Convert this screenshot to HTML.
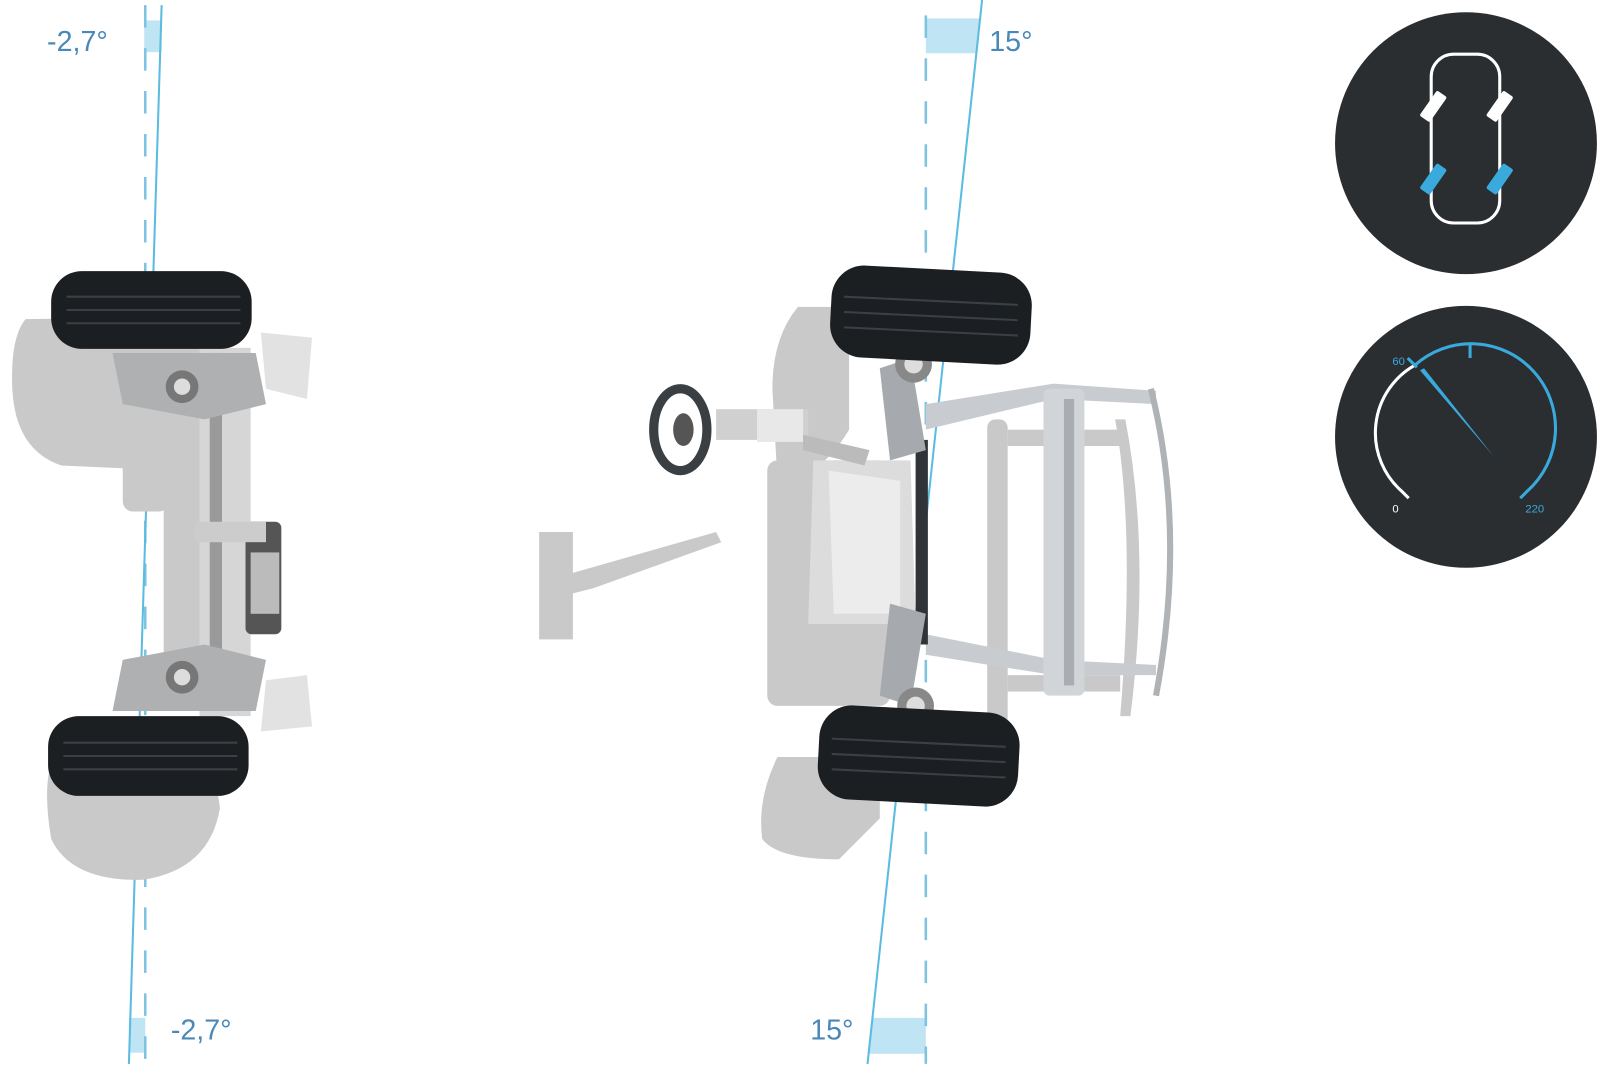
<!DOCTYPE html>
<html><head><meta charset="utf-8"><style>
html,body{margin:0;padding:0;background:#fff;overflow:hidden}
svg{display:block}
text{font-family:"Liberation Sans",sans-serif}
</style></head><body>
<svg width="1600" height="1067" viewBox="0 0 1564 1043" preserveAspectRatio="none" xmlns="http://www.w3.org/2000/svg">
<rect width="1564" height="1043" fill="#fff"/>
<!-- LEFT angle lines -->
<rect x="141" y="20" width="17" height="31" fill="#bfe4f4"/>
<rect x="126" y="995" width="16" height="34" fill="#bfe4f4"/>
<line x1="142" y1="5" x2="142" y2="1040" stroke="#7fc3e2" stroke-width="2.5" stroke-dasharray="22 20"/>
<line x1="158" y1="5" x2="126" y2="1040" stroke="#5bbbe0" stroke-width="2"/>
<!-- RIGHT angle lines -->
<polygon points="905,18 958,18 954,52 905,52" fill="#bfe4f4"/>
<polygon points="852,995 905,995 905,1030 848,1030" fill="#bfe4f4"/>
<line x1="905" y1="15" x2="905" y2="1040" stroke="#7fc3e2" stroke-width="2.5" stroke-dasharray="22 20"/>
<line x1="960" y1="0" x2="848" y2="1040" stroke="#5bbbe0" stroke-width="2"/>
<!-- LEFT shadows -->
<g fill="#c9c9c9">
<path d="M25 312 Q10 330 12 380 Q15 440 60 455 L170 460 Q210 430 215 360 Q200 320 160 310 Z"/>
<path d="M55 735 Q40 760 50 820 Q70 862 140 860 Q205 850 215 790 Q210 740 170 728 Z"/>
<rect x="120" y="440" width="45" height="60" rx="10"/>
<rect x="160" y="360" width="40" height="330"/>
</g>
<!-- LEFT axle -->
<g>
<rect x="195" y="340" width="50" height="360" fill="#d6d6d6"/>
<rect x="205" y="345" width="12" height="350" fill="#9a9a9a"/>
<path d="M110 345 L250 345 L260 395 L200 410 L120 395 Z" fill="#aeb0b2"/>
<path d="M110 695 L250 695 L260 645 L200 630 L120 645 Z" fill="#aeb0b2"/>
<circle cx="178" cy="378" r="16" fill="#777"/><circle cx="178" cy="378" r="8" fill="#ddd"/>
<circle cx="178" cy="662" r="16" fill="#777"/><circle cx="178" cy="662" r="8" fill="#ddd"/>
<rect x="240" y="510" width="35" height="110" rx="6" fill="#555"/>
<rect x="245" y="540" width="28" height="60" fill="#bbb"/>
<path d="M255 325 L305 330 L300 390 L260 380 Z" fill="#e2e2e2"/>
<path d="M255 715 L305 710 L300 660 L260 665 Z" fill="#e2e2e2"/>
<rect x="190" y="510" width="70" height="20" fill="#ccc"/>
</g>
<!-- LEFT tires -->
<g fill="#1c1f22">
<rect x="50" y="265" width="196" height="76" rx="30"/>
<rect x="47" y="700" width="196" height="78" rx="30"/>
</g>
<g stroke="#3a4045" stroke-width="2" fill="none">
<line x1="65" y1="290" x2="235" y2="290"/><line x1="65" y1="303" x2="235" y2="303"/><line x1="65" y1="316" x2="235" y2="316"/>
<line x1="62" y1="726" x2="232" y2="726"/><line x1="62" y1="739" x2="232" y2="739"/><line x1="62" y1="752" x2="232" y2="752"/>
</g>
<!-- RIGHT shadows -->
<g fill="#c9c9c9">
<path d="M780 300 Q755 330 755 380 L760 470 Q800 470 830 420 L830 300 Z"/>
<path d="M760 740 Q740 780 745 820 Q760 840 820 840 L860 800 L860 740 Z"/>
<rect x="750" y="450" width="120" height="240" rx="10"/>
<rect x="965" y="410" width="20" height="300" rx="8"/>
<path d="M1090 410 Q1110 520 1095 700 L1105 700 Q1125 540 1100 410 Z"/>
<path d="M527 520 L560 520 L560 560 L700 520 L705 530 L580 575 L560 580 L560 625 L527 625 Z"/>
<rect x="985" y="420" width="110" height="16"/>
<rect x="985" y="660" width="110" height="16"/>
</g>
<!-- RIGHT frame -->
<g>
<path d="M905 395 L1030 375 L1130 382 L1130 395 L1030 390 L905 420 Z" fill="#c8ccd0"/>
<path d="M905 640 L1030 660 L1130 660 L1130 650 L1030 645 L905 620 Z" fill="#c8ccd0"/>
<rect x="1020" y="380" width="40" height="300" rx="6" fill="#d2d5d8"/>
<rect x="1040" y="390" width="10" height="280" fill="#a9adb1"/>
<path d="M1125 380 Q1160 520 1130 680" stroke="#b0b3b6" stroke-width="6" fill="none"/>
<path d="M795 450 L890 450 L895 610 L790 610 Z" fill="#dcdcdc"/>
<path d="M810 460 L880 470 L880 600 L815 600 Z" fill="#ececec"/>
<rect x="895" y="430" width="12" height="200" fill="#303438"/>
<path d="M860 360 L890 350 L905 440 L870 450 Z" fill="#a6aaae"/>
<path d="M860 680 L890 690 L905 600 L870 590 Z" fill="#a6aaae"/>
<circle cx="893" cy="356" r="18" fill="#888"/><circle cx="893" cy="356" r="9" fill="#ddd"/>
<circle cx="895" cy="690" r="18" fill="#888"/><circle cx="895" cy="690" r="9" fill="#ddd"/>
<rect x="700" y="400" width="90" height="30" fill="#d0d0d0"/>
<rect x="740" y="400" width="45" height="32" fill="#e8e8e8"/>
<path d="M785 425 L850 440 L845 455 L785 440 Z" fill="#bbb"/>
</g>
<!-- steering wheel -->
<ellipse cx="665" cy="420" rx="26" ry="40" fill="none" stroke="#3a3f44" stroke-width="9"/>
<ellipse cx="668" cy="420" rx="10" ry="16" fill="#555"/>
<!-- RIGHT tires -->
<g fill="#1c1f22">
<rect x="812" y="263" width="196" height="90" rx="32" transform="rotate(3 910 308)"/>
<rect x="800" y="693" width="196" height="92" rx="32" transform="rotate(3 898 739)"/>
</g>
<g stroke="#3a4045" stroke-width="2" fill="none">
<line x1="825" y1="290" x2="995" y2="298"/><line x1="825" y1="305" x2="995" y2="313"/><line x1="825" y1="320" x2="995" y2="328"/>
<line x1="813" y1="722" x2="983" y2="730"/><line x1="813" y1="737" x2="983" y2="745"/><line x1="813" y1="752" x2="983" y2="760"/>
</g>
<!-- labels -->
<g fill="#4a88b8" font-size="28">
<text x="46" y="50">-2,7°</text>
<text x="967" y="50">15°</text>
<text x="167" y="1016">-2,7°</text>
<text x="792" y="1016">15°</text>
</g>
<!-- ICON 1 -->
<circle cx="1433" cy="140" r="128" fill="#2b2e31"/>
<rect x="1399" y="53" width="67" height="165" rx="22" fill="none" stroke="#fff" stroke-width="3"/>
<rect x="-6" y="-15" width="12" height="30" rx="2" fill="#fff" transform="translate(1401 104) rotate(35)"/>
<rect x="-6" y="-15" width="12" height="30" rx="2" fill="#fff" transform="translate(1466 104) rotate(35)"/>
<rect x="-6" y="-15" width="12" height="30" rx="2" fill="#3aa9dc" transform="translate(1401 175) rotate(35)"/>
<rect x="-6" y="-15" width="12" height="30" rx="2" fill="#3aa9dc" transform="translate(1466 175) rotate(35)"/>
<!-- ICON 2 -->
<circle cx="1433" cy="427" r="128" fill="#2b2e31"/>
<path d="M1377 487 L1370 480 A76 76 0 0 1 1383 357" fill="none" stroke="#fff" stroke-width="3"/>
<path d="M1383 357 A76 76 0 0 1 1493 480 L1486 487" fill="none" stroke="#3aa9dc" stroke-width="3"/>
<line x1="1437" y1="337" x2="1437" y2="350" stroke="#3aa9dc" stroke-width="3"/>
<line x1="1376" y1="350" x2="1385" y2="359" stroke="#3aa9dc" stroke-width="3"/>
<polygon points="1388,362 1392,360 1460,446" fill="#3aa9dc"/>
<g font-size="11">
<text x="1361" y="357" fill="#3aa9dc">60</text>
<text x="1361" y="501" fill="#fff">0</text>
<text x="1491" y="501" fill="#3aa9dc">220</text>
</g>
</svg>
</body></html>
